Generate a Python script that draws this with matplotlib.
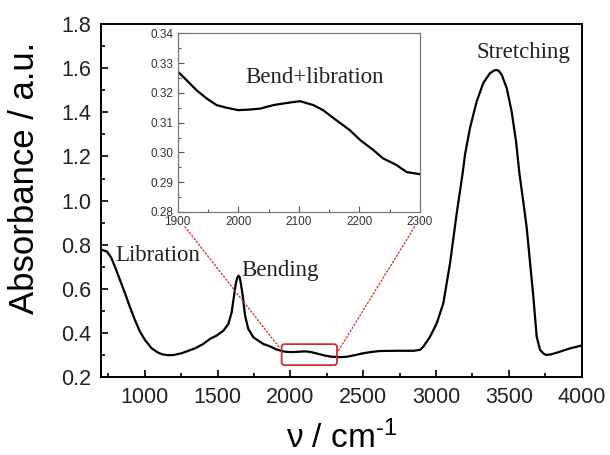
import matplotlib.pyplot as plt
from matplotlib.patches import FancyBboxPatch, ConnectionPatch
from matplotlib.ticker import MultipleLocator

plt.rcParams['font.family'] = ['Liberation Sans', 'DejaVu Sans']
plt.rcParams['mathtext.fontset'] = 'custom'
plt.rcParams['mathtext.rm'] = 'Liberation Sans'
plt.rcParams['mathtext.it'] = 'Liberation Sans'

# IR absorbance spectrum
wavenumber = [700, 740, 770, 796, 830, 865, 899, 933, 968, 1002, 1048, 1091, 1120, 1160, 1200,
              1254, 1345, 1400, 1448, 1494, 1540, 1574, 1597, 1613, 1627, 1636, 1643, 1651,
              1659, 1673, 1689, 1711, 1746, 1814, 1860,
              1901, 1915, 1931, 1948, 1964, 1981, 2000, 2019, 2036, 2058, 2080,
              2102, 2124, 2140, 2162, 2184, 2201, 2223, 2239, 2261, 2278, 2300,
              2340, 2387, 2440, 2501, 2560, 2615, 2730, 2844, 2890, 2913, 2959, 2982, 3005, 3050,
              3096, 3142, 3183, 3199, 3233, 3279, 3324, 3370, 3395, 3412, 3430, 3451, 3485,
              3519, 3549, 3572, 3600, 3622, 3668, 3691, 3714, 3740, 3760, 3790, 3828, 3920, 3988, 4000]
absorbance = [0.778, 0.770, 0.742, 0.700, 0.641, 0.580, 0.517, 0.459, 0.406, 0.369, 0.331, 0.312, 0.304, 0.300, 0.301,
              0.309, 0.331, 0.350, 0.374, 0.389, 0.411, 0.441, 0.494, 0.569, 0.630, 0.652, 0.660, 0.655,
              0.630, 0.569, 0.479, 0.419, 0.381, 0.351, 0.340,
              0.3270, 0.3242, 0.3209, 0.3181, 0.3159, 0.3150, 0.3142, 0.3144, 0.3147, 0.3159, 0.3166,
              0.3172, 0.3159, 0.3142, 0.3108, 0.3075, 0.3042, 0.3008, 0.2980, 0.2958, 0.2934, 0.2927,
              0.291, 0.293, 0.300, 0.309, 0.315, 0.319, 0.320, 0.320, 0.324, 0.339, 0.384, 0.414, 0.445, 0.535,
              0.716, 0.943, 1.126, 1.209, 1.329, 1.449, 1.532, 1.577, 1.588, 1.592, 1.588, 1.570, 1.510,
              1.404, 1.269, 1.126, 0.990, 0.880, 0.565, 0.384, 0.324, 0.306, 0.301, 0.304, 0.311, 0.331, 0.342, 0.345]

# zoomed region marked on the main plot
box_x = (1940, 2320)
box_y = (0.255, 0.350)

fig = plt.figure(figsize=(6.1, 4.55), dpi=100)
ax = fig.add_axes([0.1656, 0.1708, 0.788, 0.7765])
ax.plot(wavenumber, absorbance, color='black', lw=1.6)
ax.set_xlim(700, 4000)
ax.set_ylim(0.2, 1.8)
ax.xaxis.set_major_locator(MultipleLocator(500))
ax.xaxis.set_minor_locator(MultipleLocator(250))
ax.yaxis.set_major_locator(MultipleLocator(0.2))
ax.yaxis.set_minor_locator(MultipleLocator(0.1))
ax.yaxis.set_major_formatter(lambda v, p: f'{v:.1f}')
ax.tick_params(which='both', direction='in', width=1.2, colors='black',
               labelsize=15.5, labelcolor='#222222')
ax.tick_params(which='major', length=5, pad=7)
ax.tick_params(which='minor', length=3)
for s in ax.spines.values():
    s.set_linewidth(1.4)
ax.set_xlabel(r'ν / cm$^{\text{-1}}$', fontsize=24, labelpad=9)
ax.set_ylabel('Absorbance / a.u.', fontsize=25)
ax.yaxis.set_label_coords(-0.125, 0.564)

serif = dict(family='Liberation Serif', fontsize=16.5, color='#222222')
ax.text(796, 0.753, 'Libration', ha='left', va='center', **serif)
ax.text(1666, 0.685, 'Bending', ha='left', va='center', **serif)
ax.text(3279, 1.669, 'Stretching', ha='left', va='center', **serif)

box = FancyBboxPatch((box_x[0], box_y[0]), box_x[1] - box_x[0], box_y[1] - box_y[0],
                     boxstyle='round,pad=0,rounding_size=20', mutation_aspect=0.00066,
                     fill=False, edgecolor='#c8302a', lw=1.3, zorder=5)
ax.add_patch(box)

# inset
axin = fig.add_axes([0.2913, 0.5341, 0.3972, 0.3927])
axin.plot(wavenumber, absorbance, color='black', lw=1.6)
axin.set_xlim(1900, 2300)
axin.set_ylim(0.28, 0.34)
axin.xaxis.set_major_locator(MultipleLocator(100))
axin.xaxis.set_minor_locator(MultipleLocator(50))
axin.yaxis.set_major_locator(MultipleLocator(0.01))
axin.yaxis.set_minor_locator(MultipleLocator(0.005))
axin.yaxis.set_major_formatter(lambda v, p: f'{v:.2f}')
axin.tick_params(which='both', direction='in', colors='#555555', labelsize=8.5,
                 labelcolor='#333333', width=0.8)
axin.tick_params(which='major', length=4, pad=3)
axin.tick_params(which='minor', length=2)
for s in axin.spines.values():
    s.set_color('#777777')
    s.set_linewidth(0.9)
axin.text(2011, 0.3252, 'Bend+libration', ha='left', va='center', **serif)

for xa, ya, xb, yb in [(1912, 0.275, 1929, 0.331), (2291, 0.275, 2320, 0.310)]:
    con = ConnectionPatch(xyA=(xa, ya), coordsA=axin.transData,
                          xyB=(xb, yb), coordsB=ax.transData,
                          color='#e03030', lw=1.0, linestyle=':')
    fig.add_artist(con)

fig.savefig('out.png', dpi=100)
